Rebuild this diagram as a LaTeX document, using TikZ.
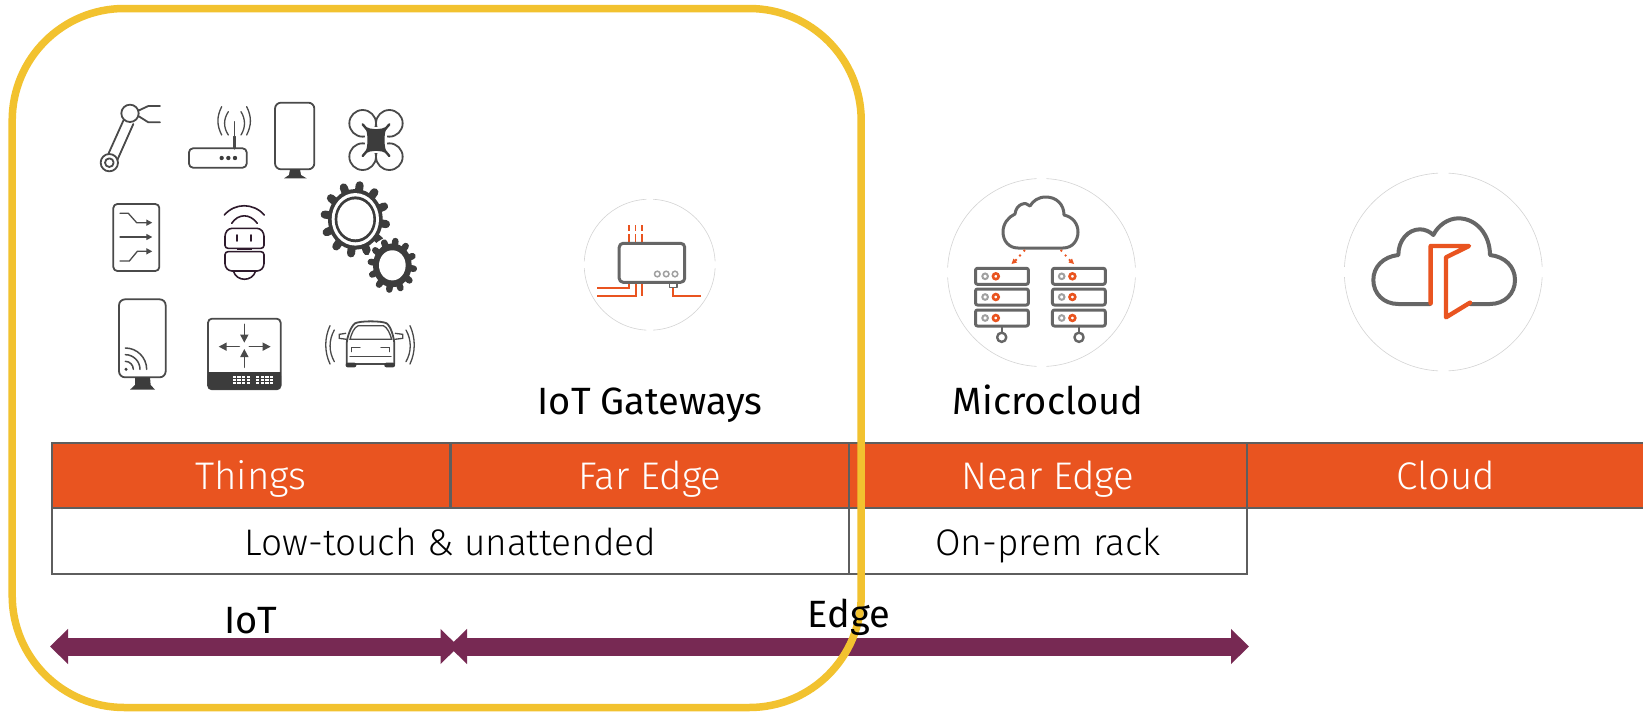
\documentclass[tikz,border=0pt]{standalone}
\usepackage{fontspec}
\setmainfont{Fira Sans Light}
\newfontfamily\regfont{Fira Sans}
\usetikzlibrary{arrows.meta}
\definecolor{ubor}{HTML}{E95420}
\definecolor{uaub}{HTML}{772953}
\definecolor{frameY}{HTML}{F2C22F}
\definecolor{cellline}{HTML}{5E5E5E}
\definecolor{icondk}{HTML}{4A4A4A}
\definecolor{iconfill}{HTML}{3C3C3C}
\definecolor{iconpurple}{HTML}{2E1A2C}
\definecolor{icongr}{HTML}{666666}
\definecolor{ringgr}{HTML}{D4D4D4}
\definecolor{dotgr}{HTML}{A0A0A0}
\tikzset{
  headcell/.style={draw=cellline,line width=1.2pt,fill=ubor,text=white,minimum width=398pt,minimum height=65pt,inner sep=0pt,outer sep=0pt,text height=35.5pt,text depth=8pt,font=\fontsize{38.5}{44}\selectfont},
  bodycell/.style={draw=cellline,line width=1.2pt,fill=white,text=black,minimum height=66pt,inner sep=0pt,outer sep=0pt,text height=36pt,text depth=8pt,font=\fontsize{37}{44}\selectfont},
  lbl/.style={text=black,inner sep=0pt,anchor=base,font=\regfont\fontsize{38}{44}\selectfont},
  spanarrow/.style={line width=18pt,draw=uaub,{Triangle[length=18pt,width=34pt]}-{Triangle[length=18pt,width=34pt]}},
  ico/.style={draw=icondk,line width=1.8pt,line cap=round,line join=round},
  icos/.style={draw=icondk,line width=1.3pt,line cap=round},
  icop/.style={draw=iconpurple,line width=1.6pt,line cap=round,line join=round},
  gr/.style={draw=icongr,line width=3pt,line cap=round,line join=round},
  orl/.style={draw=ubor,line width=1.7pt},
  ringline/.style={draw=ringgr,line width=0.6pt},
  zoomA/.style={shift={(80pt,-80pt)},x=0.33333pt,y=-0.33333pt},
  zoomC/.style={shift={(1320pt,-160pt)},x=0.33333pt,y=-0.33333pt}
}
\newcommand{\gapring}[3]{%
  \foreach \st/\en in {3/87,93/177,183/267,273/357}{
    \draw[ringline] (#1,#2) ++(\st:#3) arc[start angle=\st,end angle=\en,radius=#3];
  }}
\newcommand{\gearteeth}[4]{% bodyr toothr n toothwidth
  \fill[iconfill] (0,0) circle[radius=#1];
  \foreach \i in {1,...,#3}{
    \pgfmathsetmacro{\ang}{\i*360/#3+8}
    \draw[iconfill,line width=#4,line cap=round] (\ang:#1-8) -- (\ang:#2-8);
  }}
\begin{document}
\begin{tikzpicture}[x=1pt,y=-1pt]
\useasboundingbox (0,0) rectangle (1643,712);
\fill[white] (0,0) rectangle (1643,712);

% ---------- things icons
\begin{scope}[zoomA]
 % robot arm
 \draw[ico] (88,248) circle[radius=26];
 \draw[ico] (88,248) circle[radius=13];
 \draw[ico] (85,222) -- (130,122);
 \draw[ico] (112,240) -- (160,132);
 \draw[ico,fill=white] (150,100) circle[radius=26];
 \draw[ico] (175,92) -- (205,78) -- (240,78);
 \draw[ico] (175,108) -- (205,127) -- (240,127);
 % router
 \draw[ico,rounded corners=4pt] (327,205) rectangle (500,263);
 \foreach \x in {425,445,465}{\fill[iconfill] (\x,234) circle[radius=6.5];}
 \draw[icos] (463,125) -- (463,170);
 \draw[ico,line width=2.6pt] (463,170) -- (463,205);
 \draw[icos] (445,95) .. controls (430,118) and (430,142) .. (445,165);
 \draw[icos] (425,80) .. controls (410,110) and (410,135) .. (425,165);
 \draw[icos] (483,95) .. controls (497,118) and (497,142) .. (483,165);
 \draw[icos] (500,80) .. controls (515,110) and (515,135) .. (500,165);
 % panel
 \draw[ico,rounded corners=6pt,fill=white] (585,68) rectangle (703,268);
 \fill[iconfill] (630,268) -- (660,268) -- (663,285) -- (680,295) -- (612,295) -- (627,285) -- cycle;
 % drone
 \foreach \x in {848,928}{\foreach \y in {130,230}{\draw[ico,fill=white] (\x,\y) circle[radius=40];}}
 \fill[white] (856,142) rectangle (920,218);
 \draw[iconfill,line width=2.4pt,line cap=round] (848,133) -- (928,228) (928,133) -- (848,228);
 \fill[iconfill] (855,140) .. controls (875,150) and (901,150) .. (921,140) .. controls (911,160) and (911,200) .. (921,220) .. controls (901,210) and (875,210) .. (855,220) .. controls (865,200) and (865,160) .. (855,140) -- cycle;
 % switch box
 \draw[ico,rounded corners=4pt] (100,372) rectangle (238,573);
 \draw[icos,-{Triangle[length=6pt,width=6pt]}] (120,400) -- (145,400) -- (170,428) -- (217,428);
 \draw[icos,-{Triangle[length=6pt,width=6pt]}] (120,471) -- (217,471);
 \draw[icos,-{Triangle[length=6pt,width=6pt]}] (120,543) -- (148,543) -- (172,514) -- (217,514);
 % sensor robot
 \draw[icop] (433,405) .. controls (465,368) and (520,368) .. (553,405);
 \draw[icop] (455,430) .. controls (475,400) and (510,400) .. (532,430);
 \draw[icop,rounded corners=3pt] (435,505) -- (435,460) -- (447,445) -- (540,445) -- (552,460) -- (552,505) -- cycle;
 \draw[icop] (471,465) -- (471,483);
 \draw[icop] (513,465) -- (513,483);
 \fill[iconpurple] (470,503) rectangle (515,511);
 \draw[icop,rounded corners=3pt] (435,515) -- (552,515) -- (552,560) -- (540,573) -- (447,573) -- (435,560) -- cycle;
 \draw[icop] (460,573) .. controls (470,606) and (517,606) .. (527,573);
 % gears
 \begin{scope}[shift={(826,418)},yscale=1.11]
  \gearteeth{82}{101}{12}{8pt}
  \fill[white] (0,0) circle[radius=71];
  \fill[iconfill] (0,0) circle[radius=62];
  \fill[white] (0,0) circle[radius=54];
 \end{scope}
 \begin{scope}[shift={(937,556)},yscale=1.13]
  \fill[white] (0,0) circle[radius=76];
  \gearteeth{58}{73}{12}{6.5pt}
  \fill[white] (0,0) circle[radius=40];
 \end{scope}
 % wall panel
 \draw[ico,rounded corners=6pt] (117,658) rectangle (257,892);
 \fill[iconfill] (165,892) -- (210,892) -- (212,915) -- (225,929) -- (150,929) -- (165,915) -- cycle;
 \fill[iconfill] (138,868) circle[radius=5];
 \foreach \r in {24,44,64}{
  \draw[ico,line width=1.5pt] (136,868-\r) .. controls (136+.55*\r,868-\r) and (136+\r,868-.55*\r) .. (136+\r,868);
 }
 % junction box
 \draw[ico,rounded corners=4pt] (384,716) rectangle (602,928);
 \fill[iconfill,rounded corners=4pt] (383,876) rectangle (603,929);
 \fill[iconfill] (383,876) rectangle (603,890);
 \foreach \bx in {458,528}{\foreach \i in {0,1,2,3}{\foreach \j in {0,1,2}{
   \fill[white] (\bx+\i*14,888+\j*9) rectangle (\bx+\i*14+10,888+\j*9+6);}}}
 \draw[icos,line width=1.5pt,-{Triangle[length=8pt,width=8pt]}] (493,733) -- (493,788);
 \draw[icos,line width=1.5pt,-{Triangle[length=8pt,width=8pt]}] (493,862) -- (493,807);
 \draw[icos,line width=1.5pt,-{Triangle[length=8pt,width=8pt]}] (478,800) -- (416,800);
 \draw[icos,line width=1.5pt,-{Triangle[length=8pt,width=8pt]}] (508,800) -- (572,800);
 % car
 \draw[ico] (800,852) -- (800,790) .. controls (802,770) and (812,740) .. (825,730) .. controls (840,722) and (905,722) .. (920,730) .. controls (933,740) and (941,770) .. (943,790) -- (943,852) -- cycle;
 \draw[icos] (810,778) .. controls (815,760) and (822,742) .. (835,737) -- (910,737) .. controls (922,742) and (930,760) .. (935,778) -- cycle;
 \fill[iconfill,rounded corners=2pt] (797,848) rectangle (829,862);
 \fill[iconfill,rounded corners=2pt] (913,848) rectangle (945,862);
 \draw[icos] (797,760) -- (778,763) -- (778,775) -- (800,778);
 \draw[icos] (946,760) -- (968,763) -- (968,775) -- (944,778);
 \draw[icos] (815,815) -- (815,803) -- (840,803);
 \draw[icos] (928,815) -- (928,803) -- (903,803);
 \draw[icos] (810,830) -- (933,830);
 \draw[icos] (763,750) .. controls (746,780) and (746,815) .. (763,845);
 \draw[icos] (750,737) .. controls (733,775) and (733,815) .. (750,852);
 \draw[icos] (978,750) .. controls (995,780) and (995,815) .. (978,845);
 \draw[icos] (990,737) .. controls (1007,775) and (1007,815) .. (990,852);
\end{scope}

% ---------- gateway icon
\gapring{649.7}{264.7}{65.5}
\foreach \x in {628.8,635.5,642.1}{
  \draw[orl] (\x,225) -- (\x,230.7);
  \draw[orl] (\x,234) -- (\x,243);
}
\draw[orl] (628.8,282) -- (628.8,288.3) -- (597,288.3);
\draw[orl] (635.8,282) -- (635.8,295.7) -- (597,295.7);
\draw[orl] (642.1,282) -- (642.1,296);
\draw[orl] (672.8,287) -- (672.8,295.7) -- (701.3,295.7);
\draw[gr,rounded corners=4pt] (619.2,243.3) rectangle (684.7,282.3);
\draw[gr,line width=1.4pt] (669.5,282.3) rectangle (676.9,287.3);
\foreach \x in {657.3,666.2,675}{\draw[draw=dotgr,line width=1.5pt] (\x,274) circle[radius=2.8];}

% ---------- microcloud icon
\gapring{1041.5}{272.5}{94}
\draw[gr] (1018,248) -- (1063,248) .. controls (1073,248) and (1078,240) .. (1078,232) .. controls (1078,224) and (1073,217) .. (1064,215) .. controls (1064,204) and (1056,197) .. (1046,197) .. controls (1038,197) and (1033,201) .. (1030,206) .. controls (1026,201) and (1016,204) .. (1015,214) .. controls (1008,217) and (1003,224) .. (1003,232) .. controls (1003,241) and (1009,248) .. (1018,248) -- cycle;
\fill[ubor] (1024.3,250.7) circle[radius=1.3] (1020,255.5) circle[radius=1.3] (1016,260) circle[radius=1.3];
\fill[ubor] (1061.3,250.7) circle[radius=1.3] (1065.6,255.5) circle[radius=1.3] (1069.6,260) circle[radius=1.3];
\fill[ubor] (1011.5,264) -- (1017,262.5) -- (1013.5,258.5) -- cycle;
\fill[ubor] (1074,264) -- (1068.5,262.5) -- (1072,258.5) -- cycle;
\foreach \xs/\cg/\co/\st in {975.5/985.1/995.8/1001.7,1052.4/1061.7/1072.4/1079}{
  \foreach \y in {268.3,289,310}{
    \draw[gr,rounded corners=2pt] (\xs,\y) rectangle (\xs+52.9,\y+16);
    \draw[draw=dotgr,line width=2pt] (\cg,\y+8) circle[radius=2.8];
    \draw[draw=ubor,line width=2.6pt] (\co,\y+8) circle[radius=2.9];
  }
  \draw[gr,line width=2.4pt] (\st,326) -- (\st,332.5);
  \draw[gr,line width=2.4pt] (\st,337.3) circle[radius=4.6];
}

% ---------- cloud icon
\gapring{1443.3}{272}{99}
\begin{scope}[zoomC]
 \draw[gr,line width=4pt] (330,432) -- (235,432) .. controls (190,432) and (160,400) .. (160,360) .. controls (160,320) and (190,290) .. (235,285) .. controls (235,240) and (265,208) .. (300,208) .. controls (315,208) and (330,215) .. (340,225) .. controls (355,195) and (385,175) .. (415,175) .. controls (470,175) and (510,225) .. (510,285) .. controls (555,290) and (585,320) .. (585,360) .. controls (585,400) and (555,432) .. (510,432) -- (450,432);
 \draw[draw=ubor,line width=4.4pt,line cap=round,line join=round] (332,430) -- (332,258) -- (447,258) -- (378,292) -- (378,472) -- (450,428);
\end{scope}

% ---------- table
\node[headcell] (things) at (251,475.4) {Things};
\node[headcell] (far) at (650,475.4) {Far Edge};
\node[headcell] (near) at (1048,475.4) {Near Edge};
\node[headcell] (cloud) at (1446,475.4) {Cloud};
\node[bodycell,minimum width=797pt] (low) at (450.5,541) {Low-touch \& unattended};
\node[bodycell,minimum width=398pt] (prem) at (1048,541) {On-prem rack};

% ---------- span arrows
\coordinate (a1) at (50,646.5);
\coordinate (a2) at (458.5,646.5);
\coordinate (a3) at (449,646.5);
\coordinate (a4) at (1249,646.5);
\draw[spanarrow] (a1) -- (a2);
\draw[spanarrow] (a3) -- (a4);

% ---------- frame
\node[draw=frameY,line width=7.5pt,rounded corners=112pt,minimum width=849pt,minimum height=699pt,inner sep=0pt,outer sep=0pt] (frame) at (436.7,358) {};

% ---------- labels
\node[lbl] (gw) at (650,414) {IoT Gateways};
\node[lbl] (mc) at (1048,414) {Microcloud};
\node[lbl] (iot) at (251,633) {IoT};
\node[lbl] (edge) at (849,627) {Edge};
\end{tikzpicture}
\end{document}
